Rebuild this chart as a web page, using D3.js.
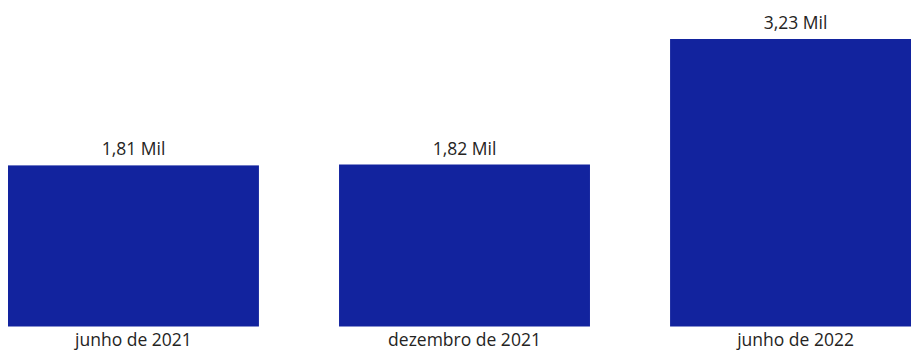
<!DOCTYPE html>
<html>
<head>
<meta charset="utf-8">
<script src="https://cdn.jsdelivr.net/npm/d3@7"></script>
<style>
	body { margin: 0; background: #fff; }
	svg { display: block; }
</style>
</head>
<body>
<svg id="chart"></svg>
<script>
// data
var categories = ["junho de 2021", "dezembro de 2021", "junho de 2022"];
var values = [1810, 1820, 3230];
var valueLabels = ["1,81 Mil", "1,82 Mil", "3,23 Mil"];

var width = 911,
	height = 352;

var svg = d3.select("#chart")
	.attr("width", width)
	.attr("height", height);

var x = d3.scaleBand()
	.domain(categories)
	.range([8, 921])
	.paddingInner(0.242)
	.paddingOuter(0);

var y = d3.scaleLinear()
	.domain([0, d3.max(values)])
	.range([326.5, 39]);

var data = categories.map(function(c, i) {
	return {cat: c, value: values[i], label: valueLabels[i]};
});

var font = "'Open Sans', 'Noto Sans', sans-serif";

svg.selectAll(".bar")
	.data(data)
	.enter().append("rect")
	.attr("class", "bar")
	.attr("x", function(d) { return x(d.cat); })
	.attr("y", function(d) { return y(d.value); })
	.attr("width", x.bandwidth())
	.attr("height", function(d) { return y(0) - y(d.value); })
	.style("fill", "#12239e");

// value labels above bars
svg.selectAll(".val")
	.data(data)
	.enter().append("text")
	.attr("class", "val")
	.attr("x", function(d) { return x(d.cat) + x.bandwidth() / 2; })
	.attr("y", function(d) { return y(d.value) - 10; })
	.attr("text-anchor", "middle")
	.style("font-family", font)
	.style("font-size", "17.5px")
	.style("fill", "#252423")
	.text(function(d) { return d.label; });

// category axis, no line or ticks
var xAxis = svg.append("g")
	.attr("transform", "translate(0," + y(0) + ")")
	.call(d3.axisBottom(x).tickSize(0).tickPadding(0));
xAxis.select(".domain").remove();
xAxis.selectAll("text")
	.attr("dy", null)
	.attr("y", 19)
	.style("font-family", font)
	.style("font-size", "17.5px")
	.style("fill", "#252423");
</script>
</body>
</html>
